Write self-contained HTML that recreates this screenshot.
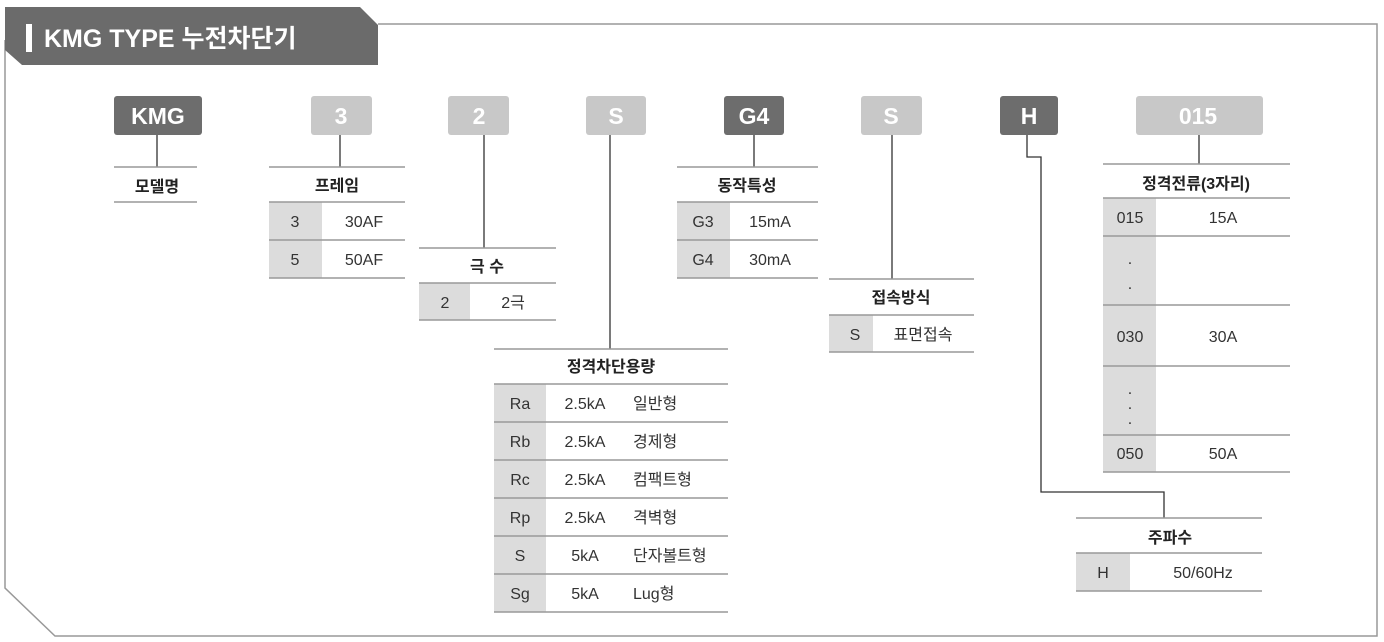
<!DOCTYPE html>
<html><head><meta charset="utf-8"><style>
html,body{margin:0;padding:0;background:#fff;}
svg{display:block;font-family:"Liberation Sans","Noto Sans CJK KR",sans-serif;}
.b{font-size:23px;font-weight:bold;fill:#fff;text-anchor:middle;}
.t{font-size:16px;font-weight:bold;fill:#222;text-anchor:middle;}
.r{font-size:16px;fill:#333;text-anchor:middle;}
.l{stroke:#999;stroke-width:1.5;}
.c{stroke:#333;stroke-width:1.3;fill:none;}
.g{fill:#dcdcdc;}
</style></head><body>
<svg width="1384" height="642" viewBox="0 0 1384 642">
<polyline points="378,24 1377,24 1377,636 55,636 5,588 5,40" fill="none" stroke="#999" stroke-width="1.5"/>
<polygon points="5,7 360,7 378,25 378,65 22,65 5,50" fill="#6b6b6b"/>
<rect x="26" y="24" width="6" height="28" fill="#fff"/>
<text x="44" y="47" font-size="25" font-weight="bold" fill="#fff">KMG TYPE 누전차단기</text>

<!-- KMG -->
<rect x="114" y="96" width="88" height="39" rx="3" fill="#6d6d6d"/><text class="b" x="158" y="124">KMG</text>
<line class="c" x1="157" y1="135" x2="157" y2="167"/>
<line class="l" x1="114" y1="167" x2="197" y2="167"/><text class="t" x="157" y="192">모델명</text><line class="l" x1="114" y1="202" x2="197" y2="202"/>

<!-- 3 -->
<rect x="311" y="96" width="61" height="39" rx="3" fill="#c8c8c8"/><text class="b" x="341" y="124">3</text>
<line class="c" x1="340" y1="135" x2="340" y2="167"/>
<rect class="g" x="269" y="202" width="53" height="76"/>
<line class="l" x1="269" y1="167" x2="405" y2="167"/><text class="t" x="337" y="191">프레임</text>
<line class="l" x1="269" y1="202" x2="405" y2="202"/><line class="l" x1="269" y1="240" x2="405" y2="240"/><line class="l" x1="269" y1="278" x2="405" y2="278"/>
<text class="r" x="295" y="227">3</text><text class="r" x="364" y="227">30AF</text>
<text class="r" x="295" y="265">5</text><text class="r" x="364" y="265">50AF</text>

<!-- 2 -->
<rect x="448" y="96" width="61" height="39" rx="3" fill="#c8c8c8"/><text class="b" x="479" y="124">2</text>
<line class="c" x1="484" y1="135" x2="484" y2="248"/>
<rect class="g" x="419" y="283" width="51" height="37"/>
<line class="l" x1="419" y1="248" x2="556" y2="248"/><text class="t" x="487" y="272">극 수</text>
<line class="l" x1="419" y1="283" x2="556" y2="283"/><line class="l" x1="419" y1="320" x2="556" y2="320"/>
<text class="r" x="445" y="308">2</text><text class="r" x="513" y="308">2극</text>

<!-- S -->
<rect x="586" y="96" width="60" height="39" rx="3" fill="#c8c8c8"/><text class="b" x="616" y="124">S</text>
<line class="c" x1="610" y1="135" x2="610" y2="349"/>
<rect class="g" x="494" y="384" width="52" height="228"/>
<line class="l" x1="494" y1="349" x2="728" y2="349"/><text class="t" x="611" y="372">정격차단용량</text>
<line class="l" x1="494" y1="384" x2="728" y2="384"/>
<line class="l" x1="494" y1="422" x2="728" y2="422"/><line class="l" x1="494" y1="460" x2="728" y2="460"/>
<line class="l" x1="494" y1="498" x2="728" y2="498"/><line class="l" x1="494" y1="536" x2="728" y2="536"/>
<line class="l" x1="494" y1="574" x2="728" y2="574"/><line class="l" x1="494" y1="612" x2="728" y2="612"/>
<g class="r">
<text x="520" y="409">Ra</text><text x="585" y="409">2.5kA</text><text x="633" y="409" text-anchor="start">일반형</text>
<text x="520" y="447">Rb</text><text x="585" y="447">2.5kA</text><text x="633" y="447" text-anchor="start">경제형</text>
<text x="520" y="485">Rc</text><text x="585" y="485">2.5kA</text><text x="633" y="485" text-anchor="start">컴팩트형</text>
<text x="520" y="523">Rp</text><text x="585" y="523">2.5kA</text><text x="633" y="523" text-anchor="start">격벽형</text>
<text x="520" y="561">S</text><text x="585" y="561">5kA</text><text x="633" y="561" text-anchor="start">단자볼트형</text>
<text x="520" y="599">Sg</text><text x="585" y="599">5kA</text><text x="633" y="599" text-anchor="start">Lug형</text>
</g>

<!-- G4 -->
<rect x="724" y="96" width="60" height="39" rx="3" fill="#6d6d6d"/><text class="b" x="754" y="124">G4</text>
<line class="c" x1="754" y1="135" x2="754" y2="167"/>
<rect class="g" x="677" y="202" width="53" height="76"/>
<line class="l" x1="677" y1="167" x2="818" y2="167"/><text class="t" x="747" y="191">동작특성</text>
<line class="l" x1="677" y1="202" x2="818" y2="202"/><line class="l" x1="677" y1="240" x2="818" y2="240"/><line class="l" x1="677" y1="278" x2="818" y2="278"/>
<text class="r" x="703" y="227">G3</text><text class="r" x="770" y="227">15mA</text>
<text class="r" x="703" y="265">G4</text><text class="r" x="770" y="265">30mA</text>

<!-- S -->
<rect x="861" y="96" width="61" height="39" rx="3" fill="#c8c8c8"/><text class="b" x="891" y="124">S</text>
<line class="c" x1="892" y1="135" x2="892" y2="279"/>
<rect class="g" x="829" y="315" width="44" height="37"/>
<line class="l" x1="829" y1="279" x2="974" y2="279"/><text class="t" x="901" y="303">접속방식</text>
<line class="l" x1="829" y1="315" x2="974" y2="315"/><line class="l" x1="829" y1="352" x2="974" y2="352"/>
<text class="r" x="855" y="340">S</text><text class="r" x="923" y="340">표면접속</text>

<!-- H -->
<rect x="1000" y="96" width="58" height="39" rx="3" fill="#6d6d6d"/><text class="b" x="1029" y="124">H</text>
<polyline class="c" points="1027,135 1027,157 1041,157 1041,492 1164,492 1164,518"/>
<rect class="g" x="1076" y="553" width="54" height="38"/>
<line class="l" x1="1076" y1="518" x2="1262" y2="518"/><text class="t" x="1170" y="543">주파수</text>
<line class="l" x1="1076" y1="553" x2="1262" y2="553"/><line class="l" x1="1076" y1="591" x2="1262" y2="591"/>
<text class="r" x="1103" y="578">H</text><text class="r" x="1203" y="578">50/60Hz</text>

<!-- 015 -->
<rect x="1136" y="96" width="127" height="39" rx="3" fill="#c8c8c8"/><text class="b" x="1198" y="124">015</text>
<line class="c" x1="1199" y1="135" x2="1199" y2="164"/>
<rect class="g" x="1103" y="198" width="53" height="274"/>
<line class="l" x1="1103" y1="164" x2="1290" y2="164"/><text class="t" x="1196" y="189">정격전류(3자리)</text>
<line class="l" x1="1103" y1="198" x2="1290" y2="198"/><line class="l" x1="1103" y1="236" x2="1290" y2="236"/>
<line class="l" x1="1103" y1="305" x2="1290" y2="305"/><line class="l" x1="1103" y1="366" x2="1290" y2="366"/>
<line class="l" x1="1103" y1="435" x2="1290" y2="435"/><line class="l" x1="1103" y1="472" x2="1290" y2="472"/>
<text class="r" x="1130" y="223">015</text><text class="r" x="1223" y="223">15A</text>
<text class="r" x="1130" y="264">.</text><text class="r" x="1130" y="289">.</text>
<text class="r" x="1130" y="342">030</text><text class="r" x="1223" y="342">30A</text>
<text class="r" x="1130" y="394">.</text><text class="r" x="1130" y="409">.</text><text class="r" x="1130" y="424">.</text>
<text class="r" x="1130" y="459">050</text><text class="r" x="1223" y="459">50A</text>
</svg>
</body></html>
